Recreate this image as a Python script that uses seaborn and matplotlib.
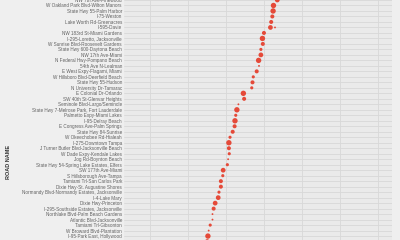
import matplotlib
matplotlib.use("Agg")
import matplotlib.pyplot as plt
import seaborn as sns
import pandas as pd

roads = [
    "NW 7th Ave-Pinewood",
    "W Oakland Park Blvd-Wilton Manors",
    "State Hwy 55-Palm Harbor",
    "I-75-Weston",
    "Lake Worth Rd-Greenacres",
    "I-595-Davie",
    "NW 183rd St-Miami Gardens",
    "I-295-Loretto, Jacksonville",
    "W Sunrise Blvd-Roosevelt Gardens",
    "State Hwy 600-Daytona Beach",
    "NW 17th Ave-Miami",
    "N Federal Hwy-Pompano Beach",
    "54th Ave N-Lealman",
    "E West Expy-Flagami, Miami",
    "W Hillsboro Blvd-Deerfield Beach",
    "State Hwy 55-Hudson",
    "N University Dr-Tamarac",
    "E Colonial Dr-Orlando",
    "SW 40th St-Glenvar Heights",
    "Seminole Blvd-Largo/Seminole",
    "State Hwy 7-Melrose Park, Fort Lauderdale",
    "Palmetto Expy-Miami Lakes",
    "I-95-Delray Beach",
    "E Congress Ave-Palm Springs",
    "State Hwy 84-Sunrise",
    "W Okeechobee Rd-Hialeah",
    "I-275-Downtown Tampa",
    "J Turner Butler Blvd-Jacksonville Beach",
    "W Dade Expy-Kendale Lakes",
    "Jog Rd-Boynton Beach",
    "State Hwy 54-Spring Lake Estates, Elfers",
    "SW 177th Ave-Miami",
    "S Hillsborough Ave-Tampa",
    "Tamiami Trl-San Carlos Park",
    "Dixie Hwy-St. Augustine Shores",
    "Normandy Blvd-Normandy Estates, Jacksonville",
    "I-4-Lake Mary",
    "Dixie Hwy-Princeton",
    "I-295-Southside Estates, Jacksonville",
    "Northlake Blvd-Palm Beach Gardens",
    "Atlantic Blvd-Jacksonville",
    "Tamiami Trl-Gibsonton",
    "W Broward Blvd-Plantation",
    "I-95-Park East, Hollywood",
    "I-75-Fort Myers",
]
values = [33.5, 32.5, 32.4, 32.2, 31.9, 31.7, 30.0, 29.6, 29.7, 29.2,
          29.2, 28.6, 28.7, 28.1, 27.2, 27.0, 26.8, 24.6, 24.8, 23.3,
          22.9, 22.6, 22.4, 22.3, 21.8, 21.1, 20.8, 20.8, 20.9, 20.6,
          20.4, 19.3, 19.2, 18.7, 18.7, 18.2, 18.0, 17.2, 16.8, 16.5,
          16.5, 15.9, 15.5, 15.3, 15.1]
counts = [4, 5, 5, 3, 3, 4, 3, 5, 3, 2,
          4, 5, 1, 3, 2, 3, 2, 5, 3, 1,
          5, 2, 5, 3, 3, 2, 5, 3, 2, 1,
          2, 4, 2, 3, 3, 2, 4, 4, 3, 1,
          1, 2, 1, 5, 4]
# extra observation on an already listed road
extra_road = ["I-595-Davie"]
extra_value = [32.9]
extra_count = [1]

df = pd.DataFrame({
    "road": roads + extra_road,
    "value": values + extra_value,
    "count": counts + extra_count,
})

sns.set_style("darkgrid")
plt.rcParams["font.family"] = ["Liberation Sans", "DejaVu Sans"]

W, H = 400, 240
fig = plt.figure(figsize=(W / 100, H / 100), dpi=100)
fig.patch.set_facecolor("#EFEFEF")

row_px = 5.49
ylo, yhi = -0.6, 45.6
top_px = ylo * row_px
bot_px = yhi * row_px
left_px, right_px = 124, 392
ax = fig.add_axes([left_px / W, (H - bot_px) / H,
                   (right_px - left_px) / W, (bot_px - top_px) / H])
ax.set_facecolor("#EAEAEA")

sns.scatterplot(data=df, x="value", y="road", size="count", sizes=(1.8, 15),
                color="#E5412F", alpha=0.95, linewidth=0, legend=False, ax=ax)

ax.set_ylim(yhi, ylo)
ax.set_yticks(range(len(roads)))
ax.set_yticklabels(roads)
ax.set_xlim(-6.72, 63.6)
ax.set_xticks(range(0, 61, 10))
ax.set_xticklabels([])
ax.grid(True, color="#D8D8D8", linewidth=0.6)
ax.tick_params(axis="y", labelsize=3.3, labelcolor="#606060", length=0, pad=1.5)
ax.tick_params(axis="x", length=0)
ax.set_xlabel("")
ax.set_ylabel("")
for s in ax.spines.values():
    s.set_visible(False)

fig.text(8 / W, 1 - 162 / H, "ROAD NAME", rotation=90, ha="center", va="center",
         fontsize=4, fontweight="bold", color="#333333")

fig.savefig("out.png", dpi=100, facecolor=fig.get_facecolor())
